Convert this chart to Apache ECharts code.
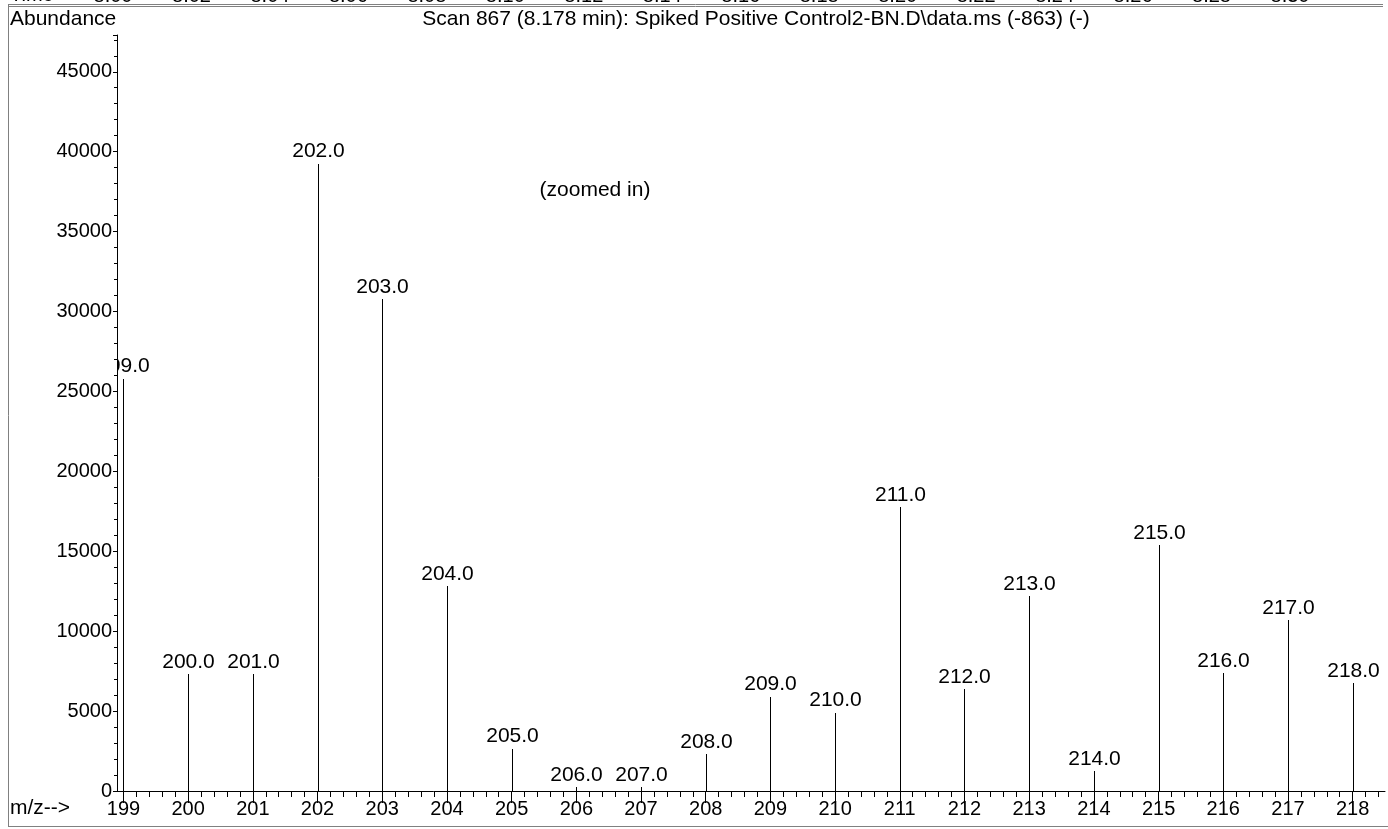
<!DOCTYPE html>
<html>
<head>
<meta charset="utf-8">
<script src="https://cdn.jsdelivr.net/npm/echarts@6/dist/echarts.min.js"></script>
<style>
html,body{margin:0;padding:0;background:#fff;}
#chart{width:1388px;height:829px;}
</style>
</head>
<body>
<div id="chart"></div>
<script>
// ---- data ----
const mzValues = [199, 200, 201, 202, 203, 204, 205, 206, 207, 208, 209, 210, 211, 212, 213, 214, 215, 216, 217, 218];
const abundances = [25800, 7300, 7300, 39250, 30800, 12800, 2650, 250, 250, 2300, 5900, 4900, 17750, 6400, 12200, 1250, 15400, 7400, 10700, 6750];
const peakLabels = ['199.0','200.0','201.0','202.0','203.0','204.0','205.0','206.0','207.0','208.0','209.0','210.0','211.0','212.0','213.0','214.0','215.0','216.0','217.0','218.0'];
const xTickValues = [199, 200, 201, 202, 203, 204, 205, 206, 207, 208, 209, 210, 211, 212, 213, 214, 215, 216, 217, 218];
const yTickLabels = ['0','5000','10000','15000','20000','25000','30000','35000','40000','45000'];
const timeTickLabels = ['8.00','8.02','8.04','8.06','8.08','8.10','8.12','8.14','8.16','8.18','8.20','8.22','8.24','8.26','8.28','8.30'];
const titleText = 'Scan 867 (8.178 min): Spiked Positive Control2-BN.D\\data.ms (-863) (-)';

const FONT = '"Liberation Sans", Arial, sans-serif';
const X_MIN = 198.9, X_MAX = 218.5;

// minor tick positions (every 0.2 between the integer ticks)
const xMinorValues = [];
xTickValues.forEach(function (m) {
  [0.2, 0.4, 0.6, 0.8].forEach(function (f) {
    const v = Math.round((m + f) * 10) / 10;
    if (v < X_MAX) xMinorValues.push(v);
  });
});

const chart = echarts.init(document.getElementById('chart'), null, {renderer: 'canvas'});

const option = {
  animation: false,
  backgroundColor: '#fff',
  grid: [
    {left: 117, right: 3, top: 35, bottom: 38, containLabel: false},
    {left: 113, width: 1177, top: -70, height: 40, containLabel: false}
  ],
  xAxis: [
    {
      gridIndex: 0, type: 'value', min: X_MIN, max: X_MAX,
      axisLine: {show: true, onZero: false, lineStyle: {color: '#000', width: 1}},
      axisTick: {show: true, length: 12, customValues: xTickValues, lineStyle: {color: '#000', width: 1}},
      axisLabel: {show: true, customValues: xTickValues, margin: 8, fontSize: 20, color: '#000', fontFamily: FONT},
      splitLine: {show: false}
    },
    {
      gridIndex: 0, type: 'value', min: X_MIN, max: X_MAX, position: 'bottom',
      axisLine: {show: false, onZero: false},
      axisTick: {show: true, length: 6, customValues: xMinorValues, lineStyle: {color: '#000', width: 1}},
      axisLabel: {show: false},
      splitLine: {show: false}
    },
    {
      gridIndex: 1, type: 'value', min: 8.00, max: 8.30, interval: 0.02,
      axisLine: {show: false}, axisTick: {show: false},
      axisLabel: {show: true, margin: 6, fontSize: 20, color: '#000', fontFamily: FONT,
        formatter: function (v) { const i = Math.round((v - 8.00) / 0.02); return timeTickLabels[i] || ''; }},
      splitLine: {show: false}
    }
  ],
  yAxis: [
    {
      gridIndex: 0, type: 'value', min: 0, max: 47300, interval: 5000,
      axisLine: {show: true, onZero: false, lineStyle: {color: '#000', width: 1}},
      axisTick: {show: true, length: 4, lineStyle: {color: '#000', width: 1}},
      minorTick: {show: true, splitNumber: 5, length: 3, lineStyle: {color: '#000', width: 1}},
      axisLabel: {show: true, margin: 5, fontSize: 20, color: '#000', fontFamily: FONT, showMaxLabel: false,
        formatter: function (v) { const i = Math.round(v / 5000); return (v % 5000 === 0 && yTickLabels[i] !== undefined) ? yTickLabels[i] : ''; }},
      splitLine: {show: false}
    },
    {
      gridIndex: 1, type: 'value', min: 0, max: 1, show: false
    }
  ],
  series: [
    {
      type: 'custom',
      xAxisIndex: 0, yAxisIndex: 0,
      clip: true,
      data: mzValues.map(function (m, i) { return [m, abundances[i]]; }),
      renderItem: function (params, api) {
        const x = api.value(0), y = api.value(1);
        const base = api.coord([x, 0]);
        const top = api.coord([x, y]);
        const px = Math.round(base[0]) + 0.5;
        return {
          type: 'group',
          children: [
            {type: 'line', shape: {x1: px, y1: base[1], x2: px, y2: Math.round(top[1])},
              style: {stroke: '#000', lineWidth: 1}},
            {type: 'text', style: {text: peakLabels[params.dataIndex], x: px, y: top[1] - 12,
              align: 'center', verticalAlign: 'middle', fontSize: 21, fontFamily: FONT, fill: '#000'}}
          ]
        };
      }
    }
  ],
  graphic: [
    {type: 'line', silent: true, shape: {x1: 8.5, y1: 4.5, x2: 8.5, y2: 826.5}, style: {stroke: '#808080', lineWidth: 1}},
    {type: 'line', silent: true, shape: {x1: 8, y1: 826.5, x2: 1388, y2: 826.5}, style: {stroke: '#808080', lineWidth: 1}},
    {type: 'line', silent: true, shape: {x1: 8, y1: 4.5, x2: 1383, y2: 4.5}, style: {stroke: '#808080', lineWidth: 1}},
    {type: 'line', silent: true, shape: {x1: 8, y1: 6.5, x2: 1383, y2: 6.5}, style: {stroke: '#808080', lineWidth: 1}},
    {type: 'text', silent: true, x: 10, y: -5, style: {text: 'Time-->', fontSize: 20, fontFamily: FONT, fill: '#000', align: 'left', verticalAlign: 'middle'}},
    {type: 'text', silent: true, x: 10, y: 19, style: {text: 'Abundance', fontSize: 21, fontFamily: FONT, fill: '#000', align: 'left', verticalAlign: 'middle'}},
    {type: 'text', silent: true, x: 756, y: 19, style: {text: titleText, fontSize: 21, fontFamily: FONT, fill: '#000', align: 'center', verticalAlign: 'middle'}},
    {type: 'text', silent: true, x: 595, y: 190, style: {text: '(zoomed in)', fontSize: 21, fontFamily: FONT, fill: '#000', align: 'center', verticalAlign: 'middle'}},
    {type: 'text', silent: true, x: 10, y: 808, style: {text: 'm/z-->', fontSize: 21, fontFamily: FONT, fill: '#000', align: 'left', verticalAlign: 'middle'}}
  ]
};

chart.setOption(option);
</script>
</body>
</html>
